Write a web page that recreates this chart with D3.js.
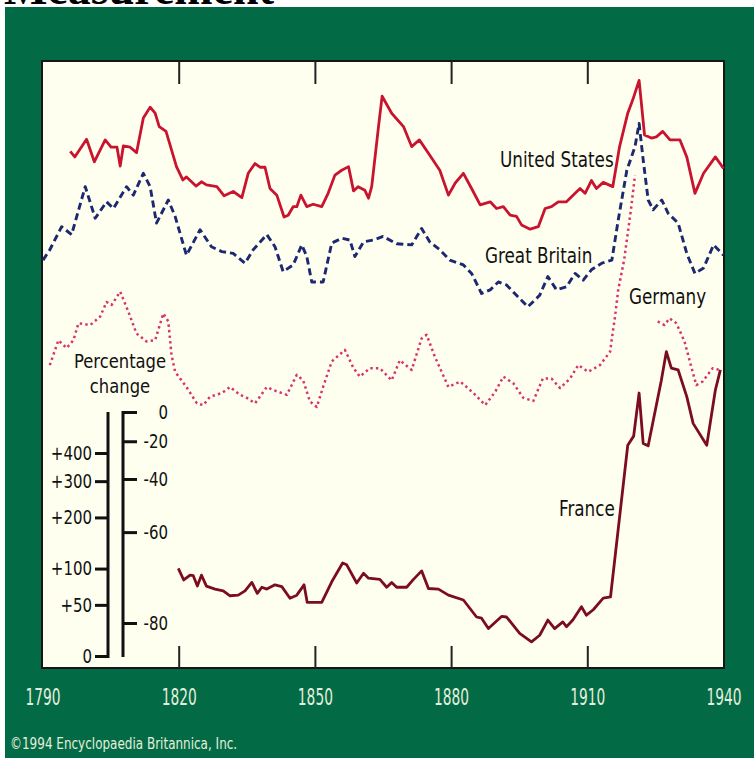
<!DOCTYPE html>
<html>
<head>
<meta charset="utf-8">
<script src="https://cdn.jsdelivr.net/npm/d3@7/dist/d3.min.js"></script>
<style>
  body { margin: 0; background: #fff; }
  svg { display: block; }
</style>
</head>
<body>
<div id="chart"></div>
<script>
// values: level = height inside the frame (0 = bottom, 100 = top)
var usYears = [1796, 1797, 1799.6, 1801.3, 1803.7, 1805, 1806.3, 1807, 1807.7, 1809.2, 1810.6, 1812.1, 1813.6, 1814.7, 1815.6, 1817.1, 1819.4, 1820.8, 1821.6, 1823.7, 1824.9, 1826, 1828.3, 1829.9, 1831.9, 1833.8, 1835.2, 1836.7, 1837.8, 1838.9, 1840, 1841.5, 1843.1, 1844, 1845.1, 1845.9, 1846.8, 1848.1, 1849.5, 1851.4, 1852.8, 1854.3, 1855.8, 1857.3, 1858.4, 1859.4, 1860.9, 1861.7, 1862.4, 1863.9, 1864.7, 1866.8, 1869.4, 1871.2, 1872.9, 1874.9, 1877.4, 1879.3, 1880.8, 1882.6, 1884.4, 1886.3, 1888.5, 1889.9, 1891.4, 1892.9, 1894.3, 1895.4, 1897.3, 1899.1, 1900.6, 1902, 1903.5, 1905.3, 1907.2, 1908.3, 1909.4, 1910.8, 1911.9, 1913.4, 1915.5, 1917, 1918.8, 1919.9, 1921.3, 1922.5, 1924, 1925.1, 1926.5, 1928.1, 1930.3, 1931.8, 1933.6, 1935.5, 1938.1, 1939.9]
var usValues = [85.1, 84.2, 87.1, 83.4, 87.0, 85.8, 85.8, 82.7, 86.0, 85.8, 84.9, 90.6, 92.4, 91.4, 89.2, 88.4, 82.6, 80.4, 80.9, 79.4, 80.1, 79.6, 79.3, 77.8, 78.5, 77.5, 81.5, 83.1, 82.5, 82.5, 79.0, 77.9, 74.3, 74.6, 76.0, 76.0, 77.9, 76.0, 76.4, 76.0, 78.2, 81.2, 82.0, 82.6, 78.6, 79.3, 78.7, 77.4, 79.3, 89.2, 94.2, 91.4, 89.2, 85.9, 87.0, 84.8, 82.0, 77.9, 79.9, 81.5, 79.0, 76.3, 76.8, 75.7, 76.0, 74.6, 74.4, 73.0, 72.3, 72.7, 75.7, 76.0, 76.8, 76.8, 78.2, 79.0, 78.2, 80.3, 79.0, 80.0, 79.3, 85.9, 91.4, 93.6, 96.8, 87.8, 87.3, 87.5, 88.4, 87.0, 87.0, 84.2, 78.2, 81.5, 84.2, 82.3]

var gbYears = [1790, 1791.5, 1794.1, 1796.3, 1799.3, 1801.5, 1804, 1805.5, 1808.4, 1809.9, 1812.1, 1813.6, 1815, 1817.6, 1819.1, 1821.6, 1824.6, 1827.1, 1829.4, 1831.9, 1834.5, 1836.3, 1839.3, 1841.1, 1842.9, 1845.1, 1847, 1848.1, 1849.2, 1851.7, 1853.6, 1855.8, 1857.6, 1858.7, 1860.6, 1862.8, 1864.9, 1867.9, 1871.2, 1873.4, 1875.2, 1877.4, 1879.6, 1882.6, 1884.4, 1886.6, 1888.5, 1890.3, 1892.1, 1894.3, 1896.8, 1899.4, 1901.2, 1903.1, 1905.3, 1907.2, 1909, 1910.8, 1913.1, 1915.3, 1916.7, 1918.6, 1920.4, 1921.3, 1922.2, 1923.3, 1924.4, 1926.3, 1927.7, 1929.9, 1931.8, 1933.6, 1935.5, 1937.7, 1939.9]
var gbValues = [67.2, 68.9, 72.7, 71.4, 79.3, 74.1, 76.8, 75.7, 79.3, 77.9, 81.5, 79.3, 73.3, 77.1, 74.4, 68.0, 72.2, 69.4, 68.6, 68.3, 66.7, 68.9, 71.4, 69.4, 65.3, 66.4, 69.7, 67.8, 63.6, 63.6, 70.0, 70.8, 70.5, 67.8, 70.2, 70.5, 71.1, 69.9, 69.7, 72.4, 70.2, 68.9, 67.2, 66.4, 65.0, 61.7, 62.3, 63.6, 63.1, 61.4, 59.5, 61.4, 64.5, 62.3, 62.8, 65.0, 63.9, 65.6, 66.7, 67.2, 73.8, 82.0, 85.9, 89.7, 83.7, 77.1, 75.5, 77.1, 74.9, 73.3, 68.3, 65.0, 65.9, 69.7, 68.0]

// null = off the chart (German inflation years)
var deYears = [1791.5, 1793.4, 1795.2, 1796.7, 1797.8, 1800.4, 1802.6, 1804, 1805.1, 1807, 1808.8, 1810.6, 1812.8, 1814.7, 1816.5, 1817.6, 1818.3, 1819.1, 1821.6, 1823.9, 1825.3, 1826.8, 1829.4, 1831.2, 1833.4, 1834.9, 1836.7, 1839.3, 1840.7, 1843.7, 1845.9, 1847.3, 1848.8, 1850.3, 1851.7, 1853.6, 1856.5, 1858.4, 1859.8, 1862, 1864.2, 1866.8, 1868.6, 1871.2, 1873.4, 1874.5, 1876.3, 1879.3, 1881.9, 1884.8, 1887.4, 1889.6, 1891.4, 1893.6, 1895.8, 1898, 1900.1, 1902, 1903.9, 1906.1, 1907.9, 1910.1, 1912.7, 1914.9, 1916, 1916.7, 1918, 1919.5, 1920.4, 1923, 1925.4, 1926.9, 1928, 1929.5, 1931.3, 1932.8, 1933.9, 1935.3, 1937.5, 1939]
var deValues = [49.9, 54.0, 52.7, 54.0, 56.8, 56.5, 57.9, 60.3, 59.8, 62.0, 58.7, 55.1, 53.8, 54.0, 58.4, 57.1, 51.6, 48.8, 46.3, 43.6, 43.3, 44.7, 45.3, 46.3, 45.0, 44.5, 43.6, 46.3, 45.8, 45.0, 48.3, 47.4, 43.9, 43.0, 46.3, 50.5, 52.4, 49.4, 48.0, 49.4, 49.4, 47.4, 50.7, 49.1, 54.3, 54.9, 51.3, 46.3, 47.2, 45.3, 43.3, 45.5, 48.0, 46.9, 44.5, 44.0, 47.7, 47.7, 46.1, 47.7, 49.9, 48.8, 49.9, 52.1, 57.9, 62.3, 67.2, 75.5, 81.2, null, 57.1, 56.5, 57.6, 56.8, 53.8, 49.6, 46.6, 47.2, 49.4, 49.1]

var frYears = [1819.8, 1821, 1822.4, 1823.1, 1824, 1824.9, 1826, 1827.9, 1829.7, 1831.2, 1833, 1834.5, 1836, 1837.2, 1838.2, 1839.3, 1841.1, 1842.6, 1844.4, 1845.9, 1847.5, 1848.2, 1851.4, 1853.6, 1856, 1856.9, 1859.1, 1860.6, 1861.7, 1864.2, 1865.7, 1866.8, 1867.9, 1870.1, 1871.6, 1873.4, 1874.9, 1877.1, 1879.3, 1882.6, 1885.5, 1886.6, 1888.1, 1891, 1892.1, 1895, 1897.6, 1899.4, 1901.2, 1902.7, 1904.5, 1905.3, 1906.7, 1908.6, 1909.7, 1911.2, 1913.4, 1915, 1918.8, 1920.1, 1921.3, 1922.2, 1923.3, 1926.2, 1927.3, 1928.4, 1929.9, 1931.8, 1933.2, 1936.2, 1938.1, 1939.2]
var frValues = [16.4, 14.5, 15.3, 15.2, 13.5, 15.3, 13.5, 13.0, 12.7, 11.9, 12.0, 12.7, 14.1, 12.3, 13.3, 13.0, 13.7, 13.4, 11.5, 12.0, 13.7, 10.8, 10.8, 14.2, 17.3, 17.0, 14.0, 15.6, 14.8, 14.6, 13.3, 14.1, 13.3, 13.3, 14.6, 16.0, 13.1, 13.0, 12.0, 11.2, 8.4, 8.2, 6.5, 8.5, 8.4, 5.7, 4.3, 5.4, 7.9, 6.5, 7.6, 6.8, 7.9, 10.1, 8.7, 9.6, 11.5, 11.7, 36.7, 38.2, 45.3, 37.0, 36.6, 47.4, 52.1, 49.4, 49.1, 44.7, 40.3, 36.7, 45.8, 49.1]

var yearTicks = [1790, 1820, 1850, 1880, 1910, 1940]
var riseTicks = [0, 50, 100, 200, 300, 400]     // percentage change, left scale
var fallTicks = [0, -20, -40, -60, -80]         // percentage change, right scale

var width = 754, height = 758

var svg = d3.select('#chart').append('svg')
    .attr('width', width)
    .attr('height', height)

// squeeze text horizontally, the original lettering is tall and narrow
function squeeze(sel, f) {
    sel.each(function () {
        var t = d3.select(this)
        var x0 = +t.attr('x') || 0
        t.attr('x', x0 / f).attr('transform', 'scale(' + f + ',1)')
    })
}

var x = d3.scaleLinear().domain([1790, 1940]).range([43, 724])
var y = d3.scaleLinear().domain([0, 100]).range([668, 61])

// cut off page title above the figure
svg.append('text')
    .attr('x', 4).attr('y', 4)
    .style('font-family', 'Liberation Serif, serif')
    .style('font-size', '46px')
    .style('font-weight', 'bold')
    .attr('fill', '#000')
    .text('Measurement')

svg.append('rect')
    .attr('x', 5).attr('y', 7)
    .attr('width', width - 5).attr('height', height - 7)
    .attr('fill', '#026b45')

// plot frame
svg.append('rect')
    .attr('x', x(1790) - 1).attr('y', y(100))
    .attr('width', x(1940) - x(1790) + 1).attr('height', y(0) - y(100))
    .attr('fill', '#fffff0')
    .attr('stroke', '#151515')
    .attr('stroke-width', 2)

var inner = yearTicks.slice(1, -1)
svg.selectAll('.ttop').data(inner).enter().append('line')
    .attr('x1', d => x(d)).attr('x2', d => x(d))
    .attr('y1', y(100)).attr('y2', y(100) + 23)
    .attr('stroke', '#222').attr('stroke-width', 2)
svg.selectAll('.tbot').data(inner).enter().append('line')
    .attr('x1', d => x(d)).attr('x2', d => x(d))
    .attr('y1', y(0)).attr('y2', y(0) - 22)
    .attr('stroke', '#222').attr('stroke-width', 2)

var yearLabels = svg.selectAll('.year').data(yearTicks).enter().append('text')
    .attr('x', d => x(d)).attr('y', 705)
    .attr('text-anchor', 'middle')
    .style('font-family', 'DejaVu Sans, sans-serif')
    .style('font-size', '23px')
    .attr('fill', '#e4eedd')
    .text(d => d)
squeeze(yearLabels, 0.6)

var copy = svg.append('text')
    .attr('x', 10).attr('y', 749)
    .style('font-family', 'DejaVu Sans, sans-serif')
    .style('font-size', '15px')
    .attr('fill', '#e4eedd')
    .text('©1994 Encyclopaedia Britannica, Inc.')
squeeze(copy, 0.8)

// series
var line = d3.line()
    .defined(d => d[1] != null)
    .x(d => x(d[0]))
    .y(d => y(d[1]))

var series = [
    { name: 'France', years: frYears, values: frValues, color: '#7c0d20', dash: null, lw: 2.8 },
    { name: 'Germany', years: deYears, values: deValues, color: '#d8336e', dash: '2.4,3.2', lw: 2.5 },
    { name: 'Great Britain', years: gbYears, values: gbValues, color: '#1c2870', dash: '7,4', lw: 2.9 },
    { name: 'United States', years: usYears, values: usValues, color: '#c8142f', dash: null, lw: 2.8 }
]

series.forEach(function (s) {
    svg.append('path')
        .datum(d3.zip(s.years, s.values))
        .attr('d', line)
        .attr('fill', 'none')
        .attr('stroke', s.color)
        .attr('stroke-width', s.lw)
        .attr('stroke-linejoin', 'round')
        .attr('stroke-dasharray', s.dash)
})

var labelFont = 'DejaVu Sans, sans-serif'
var seriesLabels = [
    { text: 'United States', x: 500, y: 167 },
    { text: 'Great Britain', x: 485, y: 263 },
    { text: 'Germany', x: 629, y: 304 },
    { text: 'France', x: 559, y: 516 }
]
var sl = svg.selectAll('.slabel').data(seriesLabels).enter().append('text')
    .attr('x', d => d.x).attr('y', d => d.y)
    .style('font-family', labelFont)
    .style('font-size', '21px')
    .attr('fill', '#111')
    .text(d => d.text)
squeeze(sl, 0.8)

// percentage change key (log scales)
var rise = d3.scaleLog().domain([1, 5]).range([656, 453])
var fall = d3.scaleLog().domain([1, 0.2]).range([412, 623])

var key = svg.append('g')
var kt = key.selectAll('.ktitle').data(['Percentage', 'change']).enter().append('text')
    .attr('x', 120).attr('y', (d, i) => 368 + i * 25)
    .attr('text-anchor', 'middle')
    .style('font-family', labelFont)
    .style('font-size', '20px')
    .attr('fill', '#111')
    .text(d => d)
squeeze(kt, 0.82)

key.append('line').attr('x1', 108).attr('x2', 108).attr('y1', 412).attr('y2', 658)
    .attr('stroke', '#111').attr('stroke-width', 3)
key.append('line').attr('x1', 123).attr('x2', 123).attr('y1', 411).attr('y2', 657)
    .attr('stroke', '#111').attr('stroke-width', 3)

var leftAxis = key.append('g')
    .attr('transform', 'translate(108,0)')
    .call(d3.axisLeft(rise)
        .tickValues(riseTicks.map(p => 1 + p / 100))
        .tickFormat(v => v === 1 ? '0' : '+' + Math.round((v - 1) * 100))
        .tickSize(13).tickPadding(3))
var rightAxis = key.append('g')
    .attr('transform', 'translate(123,0)')
    .call(d3.axisRight(fall)
        .tickValues(fallTicks.map(p => 1 + p / 100))
        .tickFormat(v => Math.round((v - 1) * 100))
        .tickSize(14).tickPadding(4))

;[leftAxis, rightAxis].forEach(function (g) {
    g.select('.domain').remove()
    g.selectAll('line').attr('stroke', '#111').attr('stroke-width', 3)
    g.selectAll('text')
        .style('font-family', labelFont)
        .style('font-size', '20px')
        .attr('fill', '#111')
})
rightAxis.selectAll('text').attr('text-anchor', 'end').attr('x', 45)
squeeze(leftAxis.selectAll('text'), 0.75)
squeeze(rightAxis.selectAll('text'), 0.75)
</script>
</body>
</html>
